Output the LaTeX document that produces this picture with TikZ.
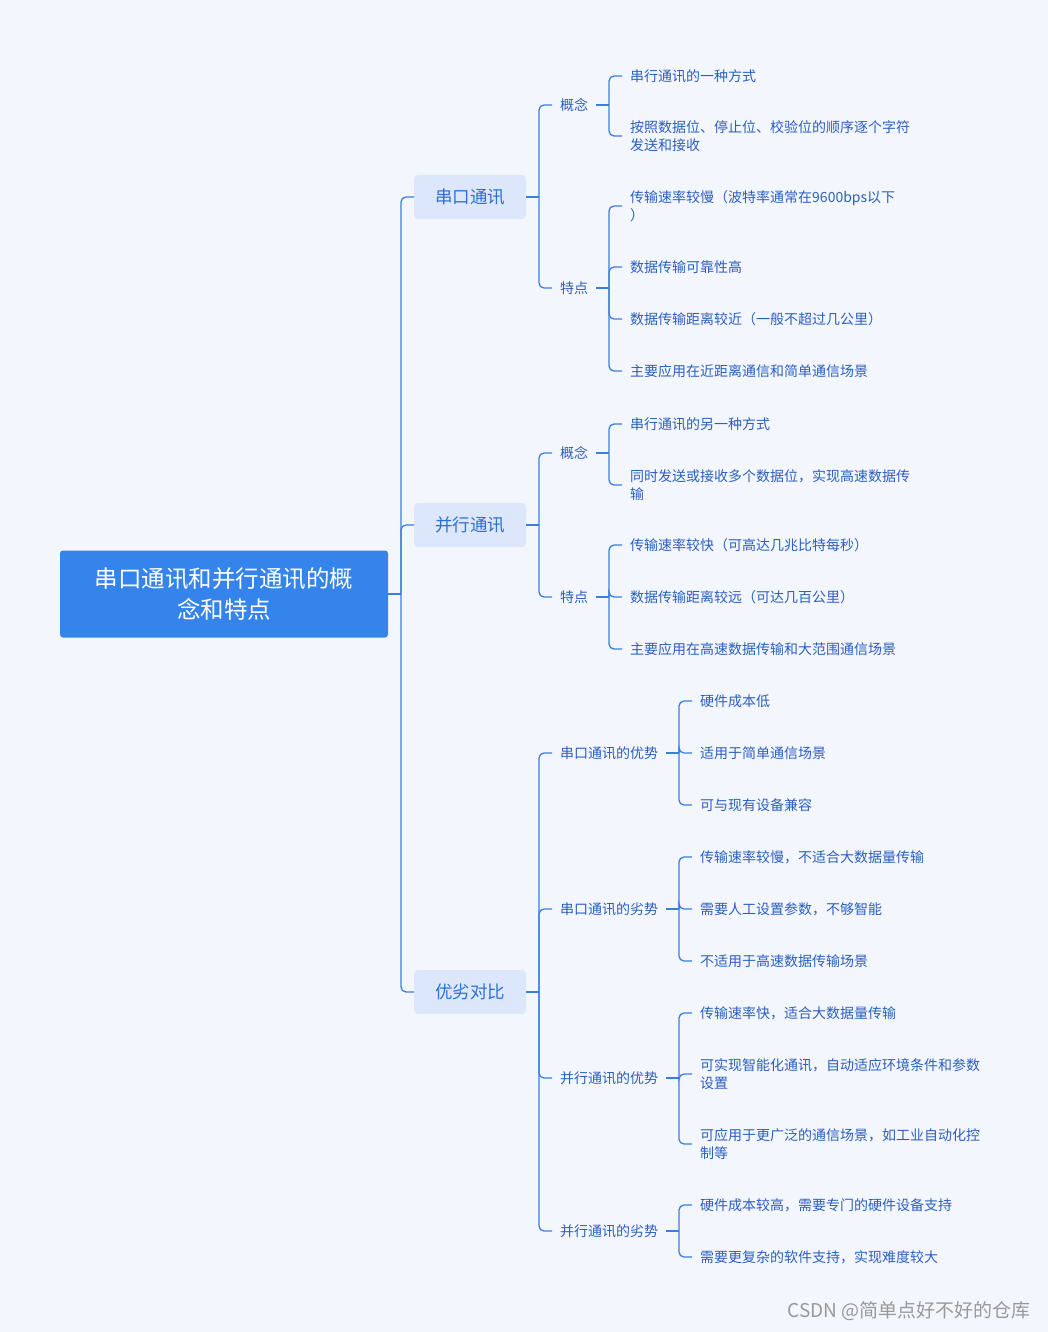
\documentclass[tikz,border=0pt]{standalone}
\usepackage{fontspec}
\setmainfont{Noto Sans CJK SC}
\usetikzlibrary{positioning}
\definecolor{bg}{HTML}{F4F6FE}
\definecolor{linkblue}{HTML}{3A7FE0}
\definecolor{rootblue}{HTML}{3584EB}
\definecolor{topicfill}{HTML}{DCE7FB}
\definecolor{topictext}{HTML}{2D6FD6}
\definecolor{leaftext}{HTML}{2A5FC0}
\tikzset{
  root/.style={fill=rootblue, text=white, rounded corners=3pt, minimum width=328pt, minimum height=87pt, align=center, font=\fontsize{23.5}{31}\selectfont},
  topic/.style={fill=topicfill, text=topictext, rounded corners=4pt, minimum width=112pt, minimum height=44pt, font=\fontsize{17.5}{20}\selectfont},
  sub/.style={anchor=west, text=leaftext, inner xsep=8pt, inner ysep=1pt, font=\fontsize{14}{18}\selectfont},
  leaf/.style={anchor=west, text=leaftext, inner xsep=8pt, inner ysep=1pt, align=left, font=\fontsize{14}{18}\selectfont},
  link/.style={draw=linkblue, line width=1.3pt, rounded corners=5pt}
}
\begin{document}
\begin{tikzpicture}[x=1pt,y=-1pt]
\fill[bg] (0,0) rectangle (1048,1332);
\coordinate (xa) at (401,0);
\coordinate (xb) at (539,0);
\coordinate (xc) at (609,0);
\coordinate (xd) at (679,0);

% root and topics
\node[root] (R) at (224,594) {串口通讯和并行通讯的概\\念和特点};
\node[topic] (S) at (470,197) {串口通讯};
\node[topic] (P) at (470,525) {并行通讯};
\node[topic] (C) at (470,992) {优劣对比};

% serial
\node[sub] (S1) at (552,105) {概念};
\node[sub] (S2) at (552,288) {特点};
\node[leaf] (S11) at (622,76) {串行通讯的一种方式};
\node[leaf] (S12) at (622,136) {按照数据位、停止位、校验位的顺序逐个字符\\发送和接收};
\node[leaf] (S21) at (622,206) {传输速率较慢（波特率通常在9600bps以下\\）};
\node[leaf] (S22) at (622,267) {数据传输可靠性高};
\node[leaf] (S23) at (622,319) {数据传输距离较近（一般不超过几公里）};
\node[leaf] (S24) at (622,371) {主要应用在近距离通信和简单通信场景};

% parallel
\node[sub] (P1) at (552,453) {概念};
\node[sub] (P2) at (552,597) {特点};
\node[leaf] (P11) at (622,424) {串行通讯的另一种方式};
\node[leaf] (P12) at (622,485) {同时发送或接收多个数据位，实现高速数据传\\输};
\node[leaf] (P21) at (622,545) {传输速率较快（可高达几兆比特每秒）};
\node[leaf] (P22) at (622,597) {数据传输距离较远（可达几百公里）};
\node[leaf] (P23) at (622,649) {主要应用在高速数据传输和大范围通信场景};

% comparison
\node[sub] (C1) at (552,753) {串口通讯的优势};
\node[sub] (C2) at (552,909) {串口通讯的劣势};
\node[sub] (C3) at (552,1078) {并行通讯的优势};
\node[sub] (C4) at (552,1231) {并行通讯的劣势};
\node[leaf] (C11) at (692,701) {硬件成本低};
\node[leaf] (C12) at (692,753) {适用于简单通信场景};
\node[leaf] (C13) at (692,805) {可与现有设备兼容};
\node[leaf] (C21) at (692,857) {传输速率较慢，不适合大数据量传输};
\node[leaf] (C22) at (692,909) {需要人工设置参数，不够智能};
\node[leaf] (C23) at (692,961) {不适用于高速数据传输场景};
\node[leaf] (C31) at (692,1013) {传输速率快，适合大数据量传输};
\node[leaf] (C32) at (692,1074) {可实现智能化通讯，自动适应环境条件和参数\\设置};
\node[leaf] (C33) at (692,1144) {可应用于更广泛的通信场景，如工业自动化控\\制等};
\node[leaf] (C41) at (692,1205) {硬件成本较高，需要专门的硬件设备支持};
\node[leaf] (C42) at (692,1257) {需要更复杂的软件支持，实现难度较大};

% connectors
\draw[link] (R.east) -- (R.east -| xa);
\foreach \c in {S,P,C} \draw[link] (R.east -| xa) |- (\c.west);
\foreach \p/\kids in {S/{S1,S2}, P/{P1,P2}, C/{C1,C2,C3,C4}} {
  \draw[link] (\p.east) -- (\p.east -| xb);
  \foreach \c in \kids \draw[link] (\p.east -| xb) |- (\c.west);
}
\foreach \p/\kids in {S1/{S11,S12}, S2/{S21,S22,S23,S24}, P1/{P11,P12}, P2/{P21,P22,P23}} {
  \draw[link] (\p.east) -- (\p.east -| xc);
  \foreach \c in \kids \draw[link] (\p.east -| xc) |- (\c.west);
}
\foreach \p/\kids in {C1/{C11,C12,C13}, C2/{C21,C22,C23}, C3/{C31,C32,C33}, C4/{C41,C42}} {
  \draw[link] (\p.east) -- (\p.east -| xd);
  \foreach \c in \kids \draw[link] (\p.east -| xd) |- (\c.west);
}

\node[anchor=east, text=black!40, font=\fontsize{19}{22}\selectfont] (W) at (1034,1311) {CSDN @简单点好不好的仓库};
\end{tikzpicture}
\end{document}
